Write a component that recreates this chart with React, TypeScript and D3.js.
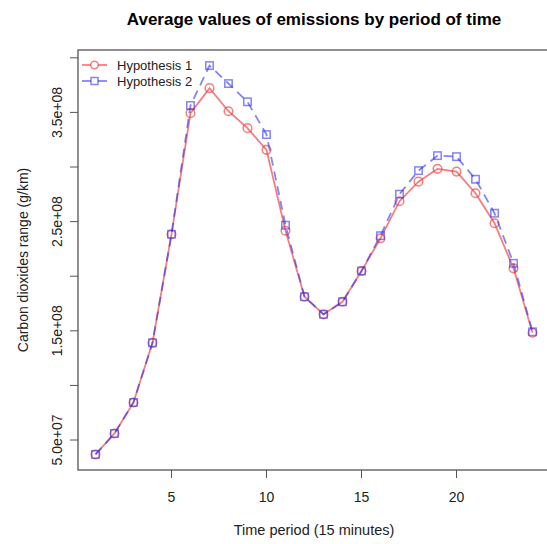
import React, { useEffect, useRef } from "react";
import * as d3 from "d3";

const periods = [1, 2, 3, 4, 5, 6, 7, 8, 9, 10, 11, 12, 13, 14, 15, 16, 17, 18, 19, 20, 21, 22, 23, 24];

// values in millions (g/km)
const hypothesis1 = [
  36.8, 56, 84.4, 139, 238.4, 349.3, 372.2, 351.1, 335.6, 315.7, 241.7, 181.2,
  165.1, 176.6, 204.8, 234.7, 268.7, 286.6, 298.3, 295.8, 276, 248.5, 207.2, 148.2
];
const hypothesis2 = [
  36.8, 56, 84.4, 139, 238.4, 356.3, 392.9, 376.4, 359.7, 329.7, 246.7, 181.2,
  165.1, 176.6, 204.8, 237.1, 275.1, 296.7, 310.4, 309.5, 288.8, 257.7, 211.8, 149.1
];

const xTicks = [5, 10, 15, 20];
const yTicks = [5e7, 1e8, 1.5e8, 2e8, 2.5e8, 3e8, 3.5e8, 4e8];
const yLabels = ["5.0e+07", "", "1.5e+08", "", "2.5e+08", "", "3.5e+08", ""];
const seriesNames = ["Hypothesis 1", "Hypothesis 2"];

const RED = "rgba(240, 40, 40, 0.6)";
const BLUE = "rgba(50, 50, 240, 0.6)";

const ChartPlot = ({ width = 547, height = 544 }: { width?: number; height?: number }) => {
  const svgRef = useRef<SVGSVGElement | null>(null);

  useEffect(() => {
    const svg = d3.select(svgRef.current);
    svg.selectAll("*").remove();

    const left = 78, top = 50, bottom = 470, right = 550;
    const x = d3.scaleLinear().domain([1 - 0.92, 24 + 0.92]).range([left, right]);
    const yMin = 36.8e6, yMax = 392.9e6, ext = (yMax - yMin) * 0.04;
    const y = d3.scaleLinear().domain([yMin - ext, yMax + ext]).range([bottom, top]);

    const font = "'Liberation Sans', Arial, sans-serif";
    const axisColor = "#555";
    const textColor = "#222";

    // Box
    svg.append("rect")
      .attr("x", left).attr("y", top)
      .attr("width", right - left).attr("height", bottom - top)
      .attr("fill", "none").attr("stroke", axisColor).attr("stroke-width", 1.3);

    // Y axis ticks
    const yg = svg.append("g");
    yTicks.forEach((t, i) => {
      yg.append("line")
        .attr("x1", left - 8).attr("x2", left)
        .attr("y1", y(t)).attr("y2", y(t))
        .attr("stroke", axisColor);
      if (yLabels[i]) {
        yg.append("text")
          .attr("transform", `translate(${left - 16},${y(t)}) rotate(-90)`)
          .attr("text-anchor", "middle")
          .style("font-family", font).style("font-size", "14px").style("fill", textColor)
          .text(yLabels[i]);
      }
    });

    // X axis ticks
    const xg = svg.append("g");
    xTicks.forEach((t) => {
      xg.append("line")
        .attr("x1", x(t)).attr("x2", x(t))
        .attr("y1", bottom).attr("y2", bottom + 8)
        .attr("stroke", axisColor);
      xg.append("text")
        .attr("x", x(t)).attr("y", bottom + 32)
        .attr("text-anchor", "middle")
        .style("font-family", font).style("font-size", "14px").style("fill", textColor)
        .text(t);
    });

    // Titles
    svg.append("text")
      .attr("x", (left + right) / 2).attr("y", 25)
      .attr("text-anchor", "middle")
      .style("font-family", font).style("font-size", "17px").style("font-weight", "bold")
      .text("Average values of emissions by period of time");
    svg.append("text")
      .attr("x", (left + right) / 2).attr("y", 535)
      .attr("text-anchor", "middle")
      .style("font-family", font).style("font-size", "14.5px").style("fill", textColor)
      .text("Time period (15 minutes)");
    svg.append("text")
      .attr("transform", `translate(28,${(top + bottom) / 2}) rotate(-90)`)
      .attr("text-anchor", "middle")
      .style("font-family", font).style("font-size", "14px").style("fill", textColor)
      .text("Carbon dioxides range (g/km)");

    const line = d3.line<number>()
      .x((_, i) => x(periods[i]))
      .y((d) => y(d * 1e6));

    // Hypothesis 1: solid line + circles
    svg.append("path")
      .attr("d", line(hypothesis1))
      .attr("fill", "none").attr("stroke", RED).attr("stroke-width", 1.8);
    svg.selectAll("circle.h1")
      .data(hypothesis1)
      .enter()
      .append("circle")
      .attr("class", "h1")
      .attr("cx", (_, i) => x(periods[i]))
      .attr("cy", (d) => y(d * 1e6))
      .attr("r", 4.3)
      .attr("fill", "none").attr("stroke", RED).attr("stroke-width", 1.5);

    // Hypothesis 2: dashed line + squares
    svg.append("path")
      .attr("d", line(hypothesis2))
      .attr("fill", "none").attr("stroke", BLUE).attr("stroke-width", 1.8)
      .attr("stroke-dasharray", "9,6");
    svg.selectAll("rect.h2")
      .data(hypothesis2)
      .enter()
      .append("rect")
      .attr("class", "h2")
      .attr("x", (_, i) => x(periods[i]) - 3.7)
      .attr("y", (d) => y(d * 1e6) - 3.7)
      .attr("width", 7.4).attr("height", 7.4)
      .attr("fill", "none").attr("stroke", BLUE).attr("stroke-width", 1.5);

    // Legend
    const lg = svg.append("g");
    seriesNames.forEach((name, i) => {
      const ly = 65 + i * 16;
      const col = i === 0 ? RED : BLUE;
      lg.append("line")
        .attr("x1", 82).attr("x2", 107).attr("y1", ly).attr("y2", ly)
        .attr("stroke", col).attr("stroke-width", 1.8);
      if (i === 0) {
        lg.append("circle").attr("cx", 94.5).attr("cy", ly).attr("r", 3.8)
          .attr("fill", "white").attr("stroke", col).attr("stroke-width", 1.5);
      } else {
        lg.append("rect").attr("x", 91).attr("y", ly - 3.5).attr("width", 7).attr("height", 7)
          .attr("fill", "white").attr("stroke", col).attr("stroke-width", 1.5);
      }
      lg.append("text")
        .attr("x", 117).attr("y", ly + 5)
        .style("font-family", font).style("font-size", "13px").style("fill", textColor)
        .text(name);
    });
  }, [width, height]);

  return (
    <svg
      ref={svgRef}
      width={width}
      height={height}
      style={{ position: "absolute", left: 0, top: 0, background: "white" }}
    ></svg>
  );
};

export default function App() {
  return <ChartPlot />;
}
